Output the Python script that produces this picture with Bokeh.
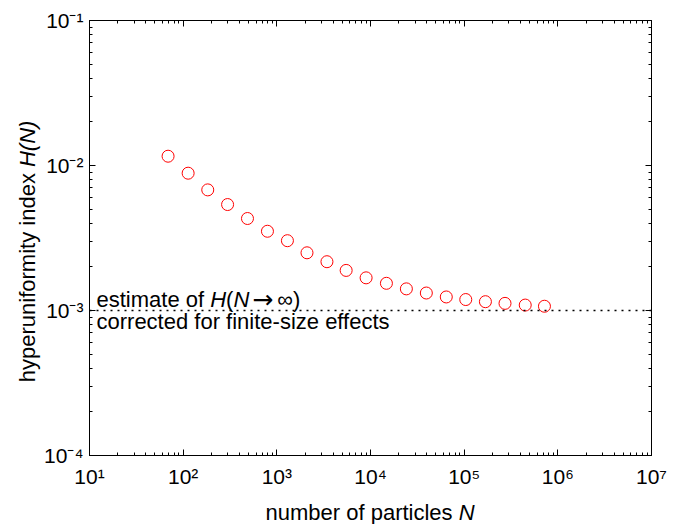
import math
from bokeh.plotting import figure
from bokeh.models import (Range1d, FixedTicker, CustomJSTickFormatter, LogAxis,
                          Span, Label)
from bokeh.embed import file_html
from bokeh.resources import INLINE

# ---- data ----
n_particles = [69, 113, 183, 298, 486, 794, 1297, 2099, 3428, 5495, 8974,
               14790, 24150, 39450, 64420, 104000, 168600, 272900, 448700, 719500]
h_index = [0.01159, 0.00885, 0.00679, 0.00538, 0.00431, 0.00352, 0.00303,
           0.00250, 0.00217, 0.00189, 0.00168, 0.00154, 0.00141, 0.00132,
           0.00124, 0.00119, 0.00115, 0.00112, 0.00109, 0.00107]
h_infinity = 1e-3
x_major = [1e1, 1e2, 1e3, 1e4, 1e5, 1e6, 1e7]
y_major = [1e-4, 1e-3, 1e-2, 1e-1]

FONT = "Liberation Sans"
FS = 22

# Arial / Liberation Sans advance widths (1/1000 em)
W = {' ': 278, 'a': 556, 'b': 556, 'c': 500, 'd': 556, 'e': 556, 'f': 278,
     'g': 556, 'h': 556, 'i': 222, 'l': 222, 'm': 833, 'n': 556, 'o': 556,
     'p': 556, 'r': 333, 's': 500, 't': 278, 'u': 556, 'x': 500, 'y': 500,
     'z': 500, 'H': 722, 'N': 722, '(': 333, ')': 333, '-': 333,
     '\u2192': 838, '\u221e': 713}


def tw(s, fs=FS):
    return sum(W.get(c, 556) for c in s) / 1000.0 * fs


p = figure(width=687, height=524, x_axis_type="log", y_axis_type="log",
           x_range=Range1d(1e1, 1e7), y_range=Range1d(1e-4, 1e-1),
           output_backend="svg", toolbar_location=None,
           min_border_left=88, min_border_right=36, min_border_top=20,
           min_border_bottom=69)
p.xgrid.visible = False
p.ygrid.visible = False
p.outline_line_color = "black"
p.background_fill_color = "white"
p.border_fill_color = "white"

x_minor = [m * d for d in x_major[:-1] for m in range(2, 10)]
y_minor = [m * d for d in y_major[:-1] for m in range(2, 10)]

sup_code = """
const sup = {"-":"\u207b","0":"\u2070","1":"\u00b9","2":"\u00b2","3":"\u00b3",
             "4":"\u2074","5":"\u2075","6":"\u2076","7":"\u2077","8":"\u2078","9":"\u2079"};
const e = Math.round(Math.log10(tick));
return "10" + String(e).split("").map(c => sup[c]).join("");
"""


def style_axis(ax, ticks, minor, labels=True):
    ax.ticker = FixedTicker(ticks=ticks, minor_ticks=minor)
    ax.axis_line_color = "black"
    ax.axis_line_width = 1
    ax.major_tick_in = 6
    ax.major_tick_out = 0
    ax.minor_tick_in = 3
    ax.minor_tick_out = 0
    ax.major_tick_line_color = "black"
    ax.minor_tick_line_color = "black"
    ax.axis_label = None
    if labels:
        ax.formatter = CustomJSTickFormatter(code=sup_code)
        ax.major_label_text_font = FONT
        ax.major_label_text_font_size = "21px"
        ax.major_label_text_color = "black"
    else:
        ax.formatter = CustomJSTickFormatter(code="return '';")
        ax.major_label_text_font_size = "0px"
        ax.major_label_standoff = 0


style_axis(p.xaxis[0], x_major, x_minor)
p.xaxis[0].major_label_standoff = 9
style_axis(p.yaxis[0], y_major, y_minor)
p.yaxis[0].major_label_standoff = 6

top = LogAxis()
style_axis(top, x_major, x_minor, labels=False)
p.add_layout(top, "above")
right = LogAxis()
style_axis(right, y_major, y_minor, labels=False)
p.add_layout(right, "right")

# reference line
p.add_layout(Span(location=h_infinity, dimension="width", line_color="black",
                  line_width=1.5, line_dash="2 5"))

# data points
p.scatter(n_particles, h_index, marker="circle", size=12, fill_color=None,
          line_color="#ff0000", line_width=1)


def lab(text, ital=False, font=FONT, fs=FS, place=None, **kw):
    l = Label(text=text, text_font=font, text_font_size=f"{fs}px",
              text_font_style="italic" if ital else "normal",
              text_color="black", text_baseline="alphabetic",
              text_align="left", **kw)
    if place:
        p.add_layout(l, place)
    else:
        p.add_layout(l)


# annotations in the plot (data units, pixel offsets)
x0 = 7
y_up = 11
off = x0
for t, it in [("estimate of ", False), ("H", True), ("(", False), ("N", True)]:
    lab(t, it, x=1e1, y=h_infinity, x_offset=off, y_offset=y_up)
    off += tw(t)
off += 3
lab("\u2192", False, font="DejaVu Sans", fs=25, x=1e1, y=h_infinity,
    x_offset=off, y_offset=y_up)
off += tw("\u2192", 25) + 4
lab("\u221e)", False, x=1e1, y=h_infinity, x_offset=off, y_offset=y_up)
lab("corrected for finite-size effects", False, x=1e1, y=h_infinity,
    x_offset=x0, y_offset=-11)

# axis titles: canvas units, each label parked in a side panel that has room
xs, xb = 265, 512
lab("number of particles ", False, place="below", x=xs, y=xb,
    x_units="canvas", y_units="canvas")
lab("N", True, place="left", x=xs + tw("number of particles "), y=xb,
    x_units="canvas", y_units="canvas")

yb, ys = 27, 381.7
lab("hyperuniformity index ", False, place="left", x=yb, y=ys,
    x_units="canvas", y_units="canvas", angle=math.pi / 2)
lab("H(N)", True, place="right", x=yb, y=ys - tw("hyperuniformity index "),
    x_units="canvas", y_units="canvas", angle=math.pi / 2)

open("out.html", "w").write(file_html(p, INLINE))
